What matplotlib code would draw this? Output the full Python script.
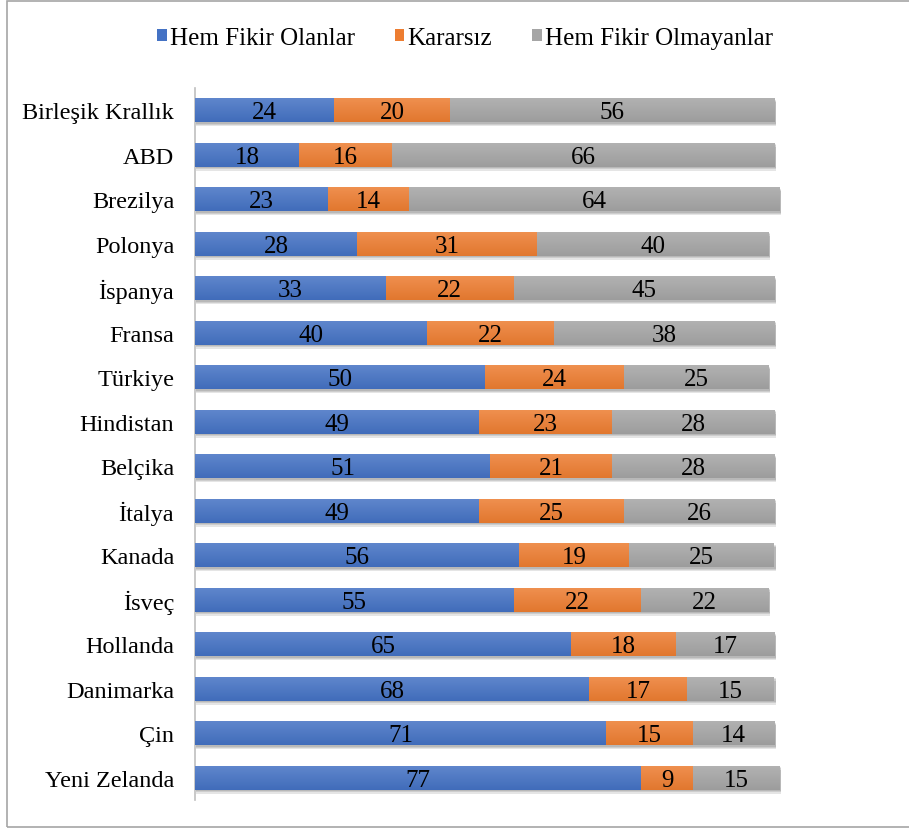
import matplotlib
matplotlib.use("Agg")
import matplotlib.pyplot as plt
import numpy as np
from matplotlib.patches import Rectangle
from matplotlib.colors import to_rgb

plt.rcParams['font.family'] = ['Liberation Serif', 'DejaVu Serif']

categories = ["Birleşik Krallık", "ABD", "Brezilya", "Polonya", "İspanya", "Fransa",
              "Türkiye", "Hindistan", "Belçika", "İtalya", "Kanada", "İsveç",
              "Hollanda", "Danimarka", "Çin", "Yeni Zelanda"]
agree = [24, 18, 23, 28, 33, 40, 50, 49, 51, 49, 56, 55, 65, 68, 71, 77]
undecided = [20, 16, 14, 31, 22, 22, 24, 23, 21, 25, 19, 22, 18, 17, 15, 9]
disagree = [56, 66, 64, 40, 45, 38, 25, 28, 28, 26, 25, 22, 17, 15, 14, 15]
series_names = ["Hem Fikir Olanlar", "Kararsız", "Hem Fikir Olmayanlar"]
colors = ["#4472C4", "#ED7D31", "#A5A5A5"]

W, H = 909, 829
FS = 17.5
fig = plt.figure(figsize=(W / 100, H / 100), dpi=100)
ax = fig.add_axes([195 / W, 1 - 801 / H, 695 / W, (801 - 89) / H])

n = len(categories)
y = np.arange(n)
bh = 0.54

def lighten(c, f):
    r = np.array(to_rgb(c))
    return tuple(r + (1 - r) * f)

def darken(c, f):
    r = np.array(to_rgb(c))
    return tuple(r * (1 - f))

data = [agree, undecided, disagree]
left = np.zeros(n)
for vals, col, name in zip(data, colors, series_names):
    vals = np.array(vals, dtype=float)
    # soft shadow below bars
    for yi, l, v in zip(y, left, vals):
        for k, a in [(0.09, 0.10), (0.06, 0.10), (0.03, 0.10)]:
            ax.add_patch(Rectangle((l + 0.25, yi - bh / 2 + k), v, bh, color=(0, 0, 0, a),
                                   zorder=1, lw=0))
    bars = ax.barh(y, vals, left=left, height=bh, color=col, label=name, zorder=2, lw=0)
    # gradient overlay
    grad = np.linspace(0, 1, 50).reshape(-1, 1)
    cmap = matplotlib.colors.LinearSegmentedColormap.from_list(
        "g", [lighten(col, 0.15), darken(col, 0.05)])
    for b in bars:
        x0, y0 = b.get_x(), b.get_y()
        im = ax.imshow(grad, extent=(x0, x0 + b.get_width(), y0 + b.get_height(), y0),
                       aspect='auto', cmap=cmap, zorder=3, origin='upper')
        im.set_clip_path(b)
    for yi, l, v in zip(y, left, vals):
        ax.text(l + v / 2, yi + 0.04, f"{int(v)}", ha='center', va='center', fontsize=18,
                color='black', zorder=5)
    left += vals

ax.set_xlim(0, 120)
ax.set_ylim(n - 0.5, -0.5)
ax.set_yticks(y)
ax.set_yticklabels(categories, fontsize=FS)
ax.tick_params(axis='y', length=0, pad=15)
ax.set_xticks([])
for s in ["top", "right", "bottom"]:
    ax.spines[s].set_visible(False)
ax.spines["left"].set_color("#BFBFBF")
ax.spines["left"].set_linewidth(1.2)

handles, labels = ax.get_legend_handles_labels()
leg = fig.legend(handles, labels, loc='center', bbox_to_anchor=(465 / W, 1 - 39 / H),
                 ncol=3, frameon=False, fontsize=18, handlelength=0.38, handleheight=0.38,
                 handletextpad=0.12, columnspacing=1.6)

fig.add_artist(Rectangle((7 / W, 1 - 828 / H), 1.2, (828 - 2) / H,
                         transform=fig.transFigure, fill=False, edgecolor="#A6A6A6", lw=1.2))

fig.savefig("out.png", dpi=100)
